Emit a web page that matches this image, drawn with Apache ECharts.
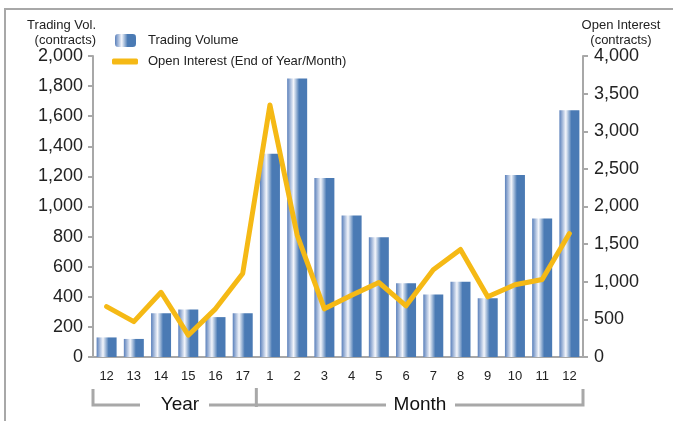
<!DOCTYPE html>
<html>
<head>
<meta charset="utf-8">
<script src="https://cdn.jsdelivr.net/npm/echarts@6/dist/echarts.min.js"></script>
<style>
  html, body { margin: 0; padding: 0; background: #fff; }
  #chart { width: 673px; height: 421px; }
</style>
</head>
<body>
<div id="chart"></div>
<script>
// categories: years 2012-2017, then months 1-12
const categories = ['12', '13', '14', '15', '16', '17', '1', '2', '3', '4', '5', '6', '7', '8', '9', '10', '11', '12 '];
const tradingVolume = [130, 120, 290, 315, 265, 290, 1350, 1850, 1190, 940, 795, 490, 415, 500, 390, 1210, 920, 1640];
const openInterest = [670, 470, 860, 290, 640, 1110, 3350, 1620, 640, 820, 990, 680, 1160, 1430, 800, 960, 1030, 1640];
const volTicks = { min: 0, max: 2000, interval: 200 };
const oiTicks = { min: 0, max: 4000, interval: 500 };

const chart = echarts.init(document.getElementById('chart'));

const gridLeft = 93, gridRight = 583, gridTop = 56, gridBottom = 357;
const textFont = 'Liberation Sans, Arial, sans-serif';
const gray = '#a8a8a8';

const barColor = new echarts.graphic.LinearGradient(0, 0, 1, 0, [
  { offset: 0, color: '#5a80bb' },
  { offset: 0.32, color: '#f4f6fb' },
  { offset: 0.6, color: '#4a7ab4' },
  { offset: 1, color: '#4a7ab4' }
]);

// bracket under the x axis: Year | Month
const divX = gridLeft + 6 * (gridRight - gridLeft) / categories.length;
const bracketY = 405;
function seg(points, w) {
  return { type: 'polyline', shape: { points }, style: { stroke: gray, lineWidth: w || 3, fill: null }, silent: true };
}

const options = {
  animation: false,
  grid: { left: gridLeft, right: 673 - gridRight, top: gridTop, bottom: 421 - gridBottom },
  legend: [
    {
      data: ['Trading Volume'],
      left: 115, top: 34, padding: 0,
      itemWidth: 21, itemHeight: 13,
      textStyle: { fontFamily: textFont, fontSize: 13, color: '#222', padding: [0, 0, 0, 7] }
    },
    {
      data: [{ name: 'Open Interest (End of Year/Month)', icon: 'roundRect' }],
      left: 112, top: 55, padding: 0,
      itemWidth: 26, itemHeight: 6,
      itemStyle: { color: '#f5b915' },
      textStyle: { fontFamily: textFont, fontSize: 13, color: '#222', padding: [0, 0, 0, 5] }
    }
  ],
  xAxis: {
    type: 'category',
    data: categories,
    axisLine: { lineStyle: { color: gray, width: 2 } },
    axisTick: { length: 6, lineStyle: { color: gray, width: 2 } },
    axisLabel: {
      margin: 13,
      fontFamily: textFont, fontSize: 13, color: '#222',
      formatter: v => v.trim()
    }
  },
  yAxis: [
    {
      type: 'value',
      min: volTicks.min, max: volTicks.max, interval: volTicks.interval,
      splitLine: { show: false },
      axisLine: { show: true, lineStyle: { color: gray, width: 2 } },
      axisTick: { show: true, length: 5, lineStyle: { color: gray, width: 2 } },
      axisLabel: { margin: 10, fontFamily: textFont, fontSize: 18, color: '#222' }
    },
    {
      type: 'value',
      min: oiTicks.min, max: oiTicks.max, interval: oiTicks.interval,
      splitLine: { show: false },
      axisLine: { show: true, lineStyle: { color: gray, width: 2 } },
      axisTick: { show: true, length: 5, lineStyle: { color: gray, width: 2 } },
      axisLabel: { margin: 11, fontFamily: textFont, fontSize: 18, color: '#222' }
    }
  ],
  series: [
    {
      name: 'Trading Volume',
      type: 'bar',
      data: tradingVolume,
      barWidth: 20,
      itemStyle: { color: barColor }
    },
    {
      name: 'Open Interest (End of Year/Month)',
      type: 'line',
      yAxisIndex: 1,
      data: openInterest,
      showSymbol: false,
      symbol: 'none',
      lineStyle: { color: '#f5b915', width: 5, join: 'round', cap: 'round' },
      itemStyle: { color: '#f5b915' },
      z: 3
    }
  ],
  graphic: [
    // outer frame
    seg([[5, 421], [5, 9], [673, 9]], 2),
    // axis titles
    {
      type: 'text', x: 96, y: 18, silent: true,
      style: { text: 'Trading Vol.\n(contracts)', fontFamily: textFont, fontSize: 13, lineHeight: 15, fill: '#222', align: 'right', verticalAlign: 'top' }
    },
    {
      type: 'text', x: 621, y: 18, silent: true,
      style: { text: 'Open Interest\n(contracts)', fontFamily: textFont, fontSize: 13, lineHeight: 15, fill: '#222', align: 'center', verticalAlign: 'top' }
    },
    // bracket
    seg([[gridLeft, 389], [gridLeft, bracketY], [140, bracketY]]),
    seg([[209, bracketY], [divX, bracketY]]),
    seg([[divX, 388], [divX, 407]]),
    seg([[divX, bracketY], [386, bracketY]]),
    seg([[455, bracketY], [gridRight, bracketY], [gridRight, 389]]),
    {
      type: 'text', x: 180, y: bracketY, silent: true,
      style: { text: 'Year', fontFamily: textFont, fontSize: 19, fill: '#111', align: 'center', verticalAlign: 'middle' }
    },
    {
      type: 'text', x: 420, y: bracketY, silent: true,
      style: { text: 'Month', fontFamily: textFont, fontSize: 19, fill: '#111', align: 'center', verticalAlign: 'middle' }
    }
  ]
};

chart.setOption(options);
</script>
</body>
</html>
